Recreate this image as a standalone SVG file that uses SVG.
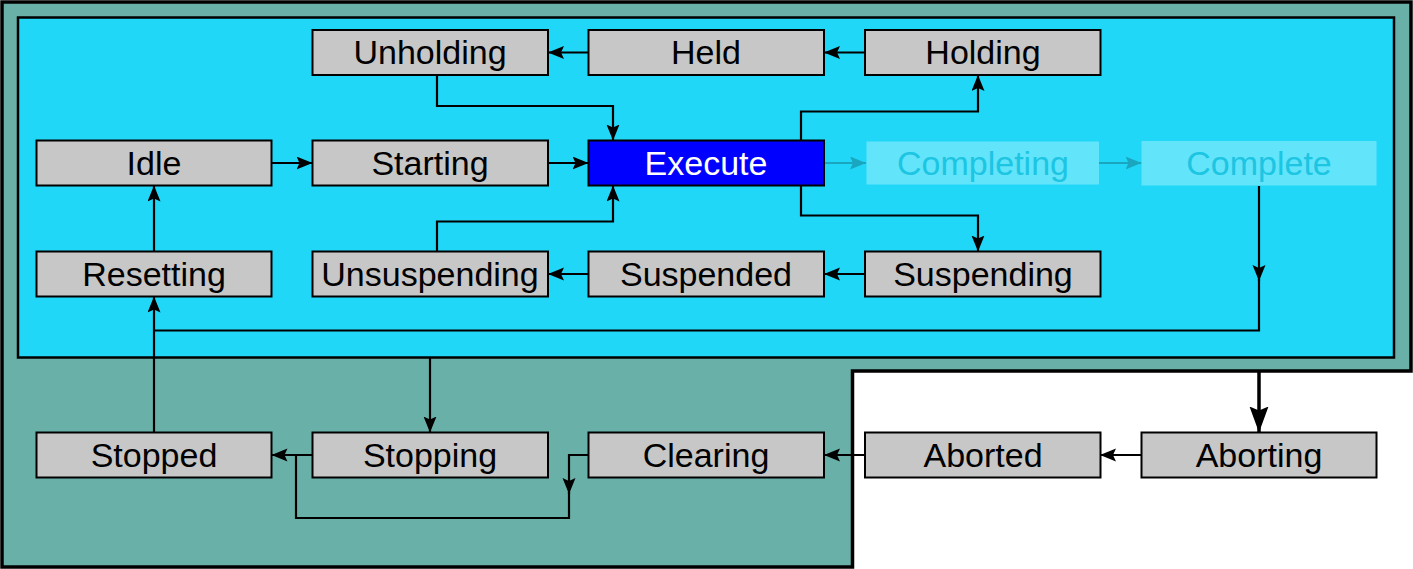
<svg xmlns="http://www.w3.org/2000/svg" width="1413" height="569" viewBox="0 0 1413 569">
<style>
.n rect{fill:#C6C7C6;stroke:#000;stroke-width:2}
.n text{font-family:"Liberation Sans",Arial,sans-serif;font-size:34px;fill:#000;text-anchor:middle}
#execute rect{fill:#0000FF}
#execute text{fill:#FFFFFF}
.ghost rect{fill:#62E4FB;stroke:none}
.ghost text{fill:#1CC5E2}
.e path{fill:none;stroke:#000;stroke-width:2.2}
.e path.a{marker-end:url(#ar)}
.e path.t{stroke:#1AA6BF;marker-end:url(#art)}
.e path.big{stroke-width:3.5;marker-end:url(#arb)}
</style>
<defs>
<marker id="ar" markerUnits="userSpaceOnUse" markerWidth="18" markerHeight="14" refX="16" refY="6.5" orient="auto" viewBox="0 0 18 14">
<path d="M0,0 L16,6.5 L0,13 L3,6.5 Z" fill="#000"/>
</marker>
<marker id="art" markerUnits="userSpaceOnUse" markerWidth="18" markerHeight="14" refX="16" refY="6.5" orient="auto" viewBox="0 0 18 14">
<path d="M0,0 L16,6.5 L0,13 L3,6.5 Z" fill="#1AA6BF"/>
</marker>
<marker id="arb" markerUnits="userSpaceOnUse" markerWidth="28" markerHeight="20" refX="26" refY="9.5" orient="auto" viewBox="0 0 28 20">
<path d="M0,0 L26,9.5 L0,19 L4,9.5 Z" fill="#000"/>
</marker>
</defs>
<g id="background">
<path d="M2,2 H1411 V371 H852.5 V567 H2 Z" fill="#69B1A8" stroke="#000" stroke-width="3.5"/>
<rect x="18" y="17.5" width="1376" height="340" fill="#21D7F7" stroke="#000" stroke-width="2.5"/>
</g>
<g id="connectors" class="e">
<path class="a" d="M588.5,52.5 H548"/>
<path class="a" d="M865,52.5 H824"/>
<path class="a" d="M437,75 V106 H613 V140.5"/>
<path class="a" d="M801,140.5 V111.5 H978 V75"/>
<path class="a" d="M271.5,163 H312.5"/>
<path class="a" d="M548,163 H588.5"/>
<path class="t" d="M824,163 H866"/>
<path class="t" d="M1099,163 H1141.5"/>
<path class="a" d="M801,185.5 V215.5 H978 V251.5"/>
<path class="a" d="M865,274 H824"/>
<path class="a" d="M588.5,274 H548"/>
<path class="a" d="M437,251.5 V221.5 H613 V185.5"/>
<path class="a" d="M154,251.5 V185.5"/>
<path class="a" d="M154,432.5 V296.5"/>
<path class="a" d="M1259,186 V281"/>
<path d="M1259,279 V330.5 H154"/>
<path class="a" d="M430,357 V432.5"/>
<path class="a" d="M312.5,455 H271.5"/>
<path class="a" d="M588.5,455 H569 V494"/>
<path d="M569,492 V518 H296 V455"/>
<path class="a" d="M865,455 H824"/>
<path class="a" d="M1141.5,455 H1100"/>
<path class="big" d="M1259,372 V432.5"/>
</g>
<g id="unholding" class="n"><rect x="312.5" y="30" width="235.5" height="45"/><text x="430" y="64">Unholding</text></g>
<g id="held" class="n"><rect x="588.5" y="30" width="235.5" height="45"/><text x="706" y="64">Held</text></g>
<g id="holding" class="n"><rect x="865" y="30" width="235.5" height="45"/><text x="983" y="64">Holding</text></g>
<g id="idle" class="n"><rect x="36.5" y="140.5" width="235" height="45"/><text x="154" y="174.5">Idle</text></g>
<g id="starting" class="n"><rect x="312.5" y="140.5" width="235.5" height="45"/><text x="430" y="174.5">Starting</text></g>
<g id="execute" class="n"><rect x="588.5" y="140.5" width="235.5" height="45"/><text x="706" y="174.5">Execute</text></g>
<g id="completing" class="n ghost"><rect x="866.5" y="141.5" width="232.5" height="43"/><text x="983" y="174.5">Completing</text></g>
<g id="complete" class="n ghost"><rect x="1141.5" y="141" width="235" height="44.5"/><text x="1259" y="174.5">Complete</text></g>
<g id="resetting" class="n"><rect x="36.5" y="251.5" width="235" height="45"/><text x="154" y="285.5">Resetting</text></g>
<g id="unsuspending" class="n"><rect x="312.5" y="251.5" width="235.5" height="45"/><text x="430" y="285.5">Unsuspending</text></g>
<g id="suspended" class="n"><rect x="588.5" y="251.5" width="235.5" height="45"/><text x="706" y="285.5">Suspended</text></g>
<g id="suspending" class="n"><rect x="865" y="251.5" width="235.5" height="45"/><text x="983" y="285.5">Suspending</text></g>
<g id="stopped" class="n"><rect x="36.5" y="432.5" width="235" height="45"/><text x="154" y="466.5">Stopped</text></g>
<g id="stopping" class="n"><rect x="312.5" y="432.5" width="235.5" height="45"/><text x="430" y="466.5">Stopping</text></g>
<g id="clearing" class="n"><rect x="588.5" y="432.5" width="235.5" height="45"/><text x="706" y="466.5">Clearing</text></g>
<g id="aborted" class="n"><rect x="865" y="432.5" width="235.5" height="45"/><text x="983" y="466.5">Aborted</text></g>
<g id="aborting" class="n"><rect x="1141.5" y="432.5" width="235" height="45"/><text x="1259" y="466.5">Aborting</text></g>
</svg>
